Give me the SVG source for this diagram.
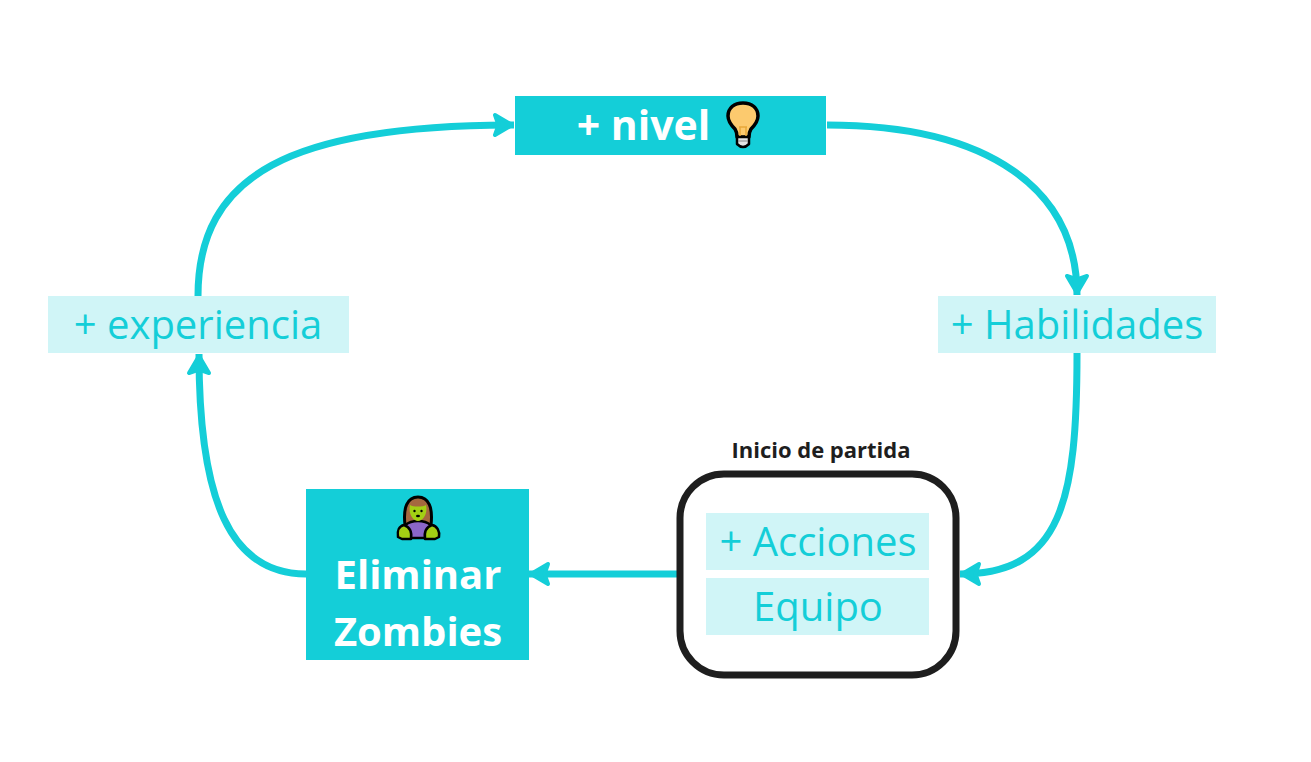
<svg xmlns="http://www.w3.org/2000/svg" width="1311" height="762" viewBox="0 0 1311 762">
<style>
.t{font-family:"Open Sans","Noto Sans","Liberation Sans",sans-serif;text-anchor:middle}
.dark{fill:#14ced8}
.light{fill:#d0f5f7}
.lab{font-size:40px;fill:#14ced8}
.b{font-size:40px;font-weight:700;fill:#fff}
.c{fill:none;stroke:#14ced8;stroke-width:7;stroke-linecap:butt}
</style>
<defs>
<marker id="a" markerUnits="userSpaceOnUse" markerWidth="36" markerHeight="36" viewBox="-26 -18 36 36" refX="0" refY="0" orient="auto" overflow="visible">
<path d="M-2 0L-19 -10L-15.500 0L-19 10Z" fill="#14ced8" stroke="#14ced8" stroke-width="4" stroke-linejoin="round"/>
</marker>
</defs>
<rect width="1311" height="762" fill="#fff"/>
<g id="connectors">
<path class="c" d="M198 296C198 175 290 125 514 125" marker-end="url(#a)"/>
<path class="c" d="M827 125C990 125 1077 190 1077 295" marker-end="url(#a)"/>
<path class="c" d="M1077 353C1077 500 1062 574 960 574" marker-end="url(#a)"/>
<path class="c" d="M677 574H529" marker-end="url(#a)"/>
<path class="c" d="M306 574C230 574 199 500 199 354" marker-end="url(#a)"/>
</g>
<g id="nivel">
<rect class="dark" x="515" y="96" width="311" height="59"/>
<text class="t b" x="643.500" y="140" style="font-size:41px">+ nivel</text>
<g id="bulb">
<path d="M735 129C730 124 728 119 728 116C728 108 734 103 743 103C752 103 758 108 758 116C758 119 756 124 751 129C749 132 749 134 749 137H737C737 134 737 132 735 129Z" fill="#fcca6e" stroke="#000" stroke-width="3.500" stroke-linejoin="round"/>
<path d="M737 137H749V144Q743 150 737 144Z" fill="#e4e4e4" stroke="#000" stroke-width="2.500" stroke-linejoin="round"/>
<path d="M740 127V136M746 127V136M739 127H747" fill="none" stroke="#e8a83a" stroke-width="1.500"/>
<path d="M738 141H748" fill="none" stroke="#8a8a8a" stroke-width="1"/>
</g>
</g>
<g id="experiencia">
<rect class="light" x="48" y="296" width="301" height="57"/>
<text class="t lab" x="198" y="339">+ experiencia</text>
</g>
<g id="habilidades">
<rect class="light" x="938" y="296" width="278" height="57"/>
<text class="t lab" x="1077" y="339">+ Habilidades</text>
</g>
<g id="zombies">
<rect class="dark" x="306" y="489" width="223" height="171"/>
<text class="t b" x="418" y="589">Eliminar</text>
<text class="t b" x="418" y="646">Zombies</text>
<g id="zombie">
<path d="M405 525C403 508 407 497 418 497C429 497 433 508 431 525Z" fill="#a5683f" stroke="#000" stroke-width="3" stroke-linejoin="round"/>
<path d="M402 538C400 526 408 521 418 521C428 521 436 526 434 538Z" fill="#8b66c9" stroke="#000" stroke-width="2.500" stroke-linejoin="round"/>
<path d="M410 505C413 507 423 507 426 505C428 514 423 521 418 521C413 521 408 514 410 505Z" fill="#a3cf14"/>
<circle cx="414.500" cy="511" r="1.200" fill="#000"/><circle cx="421.500" cy="511" r="1.200" fill="#000"/>
<ellipse cx="418" cy="516" rx="2" ry="1.300" fill="#000"/>
<path d="M404 525C399 526 397 531 398 537L402 539H411C412 532 410 527 404 525Z" fill="#a3cf14" stroke="#000" stroke-width="2.500" stroke-linejoin="round"/>
<path d="M432 525C437 526 440 531 439 537L435 539H425C424 532 426 527 432 525Z" fill="#a3cf14" stroke="#000" stroke-width="2.500" stroke-linejoin="round"/>
</g>
</g>
<g id="inicio">
<text class="t" x="821" y="458" font-size="22" font-weight="700" fill="#1e1e1e">Inicio de partida</text>
<rect x="680" y="474" width="276" height="201" rx="44" fill="#fff" stroke="#1e1e1e" stroke-width="7"/>
</g>
<g id="acciones">
<rect class="light" x="706" y="513" width="223" height="57"/>
<text class="t lab" x="818" y="556">+ Acciones</text>
</g>
<g id="equipo">
<rect class="light" x="706" y="578" width="223" height="57"/>
<text class="t lab" x="818" y="621">Equipo</text>
</g>
</svg>
